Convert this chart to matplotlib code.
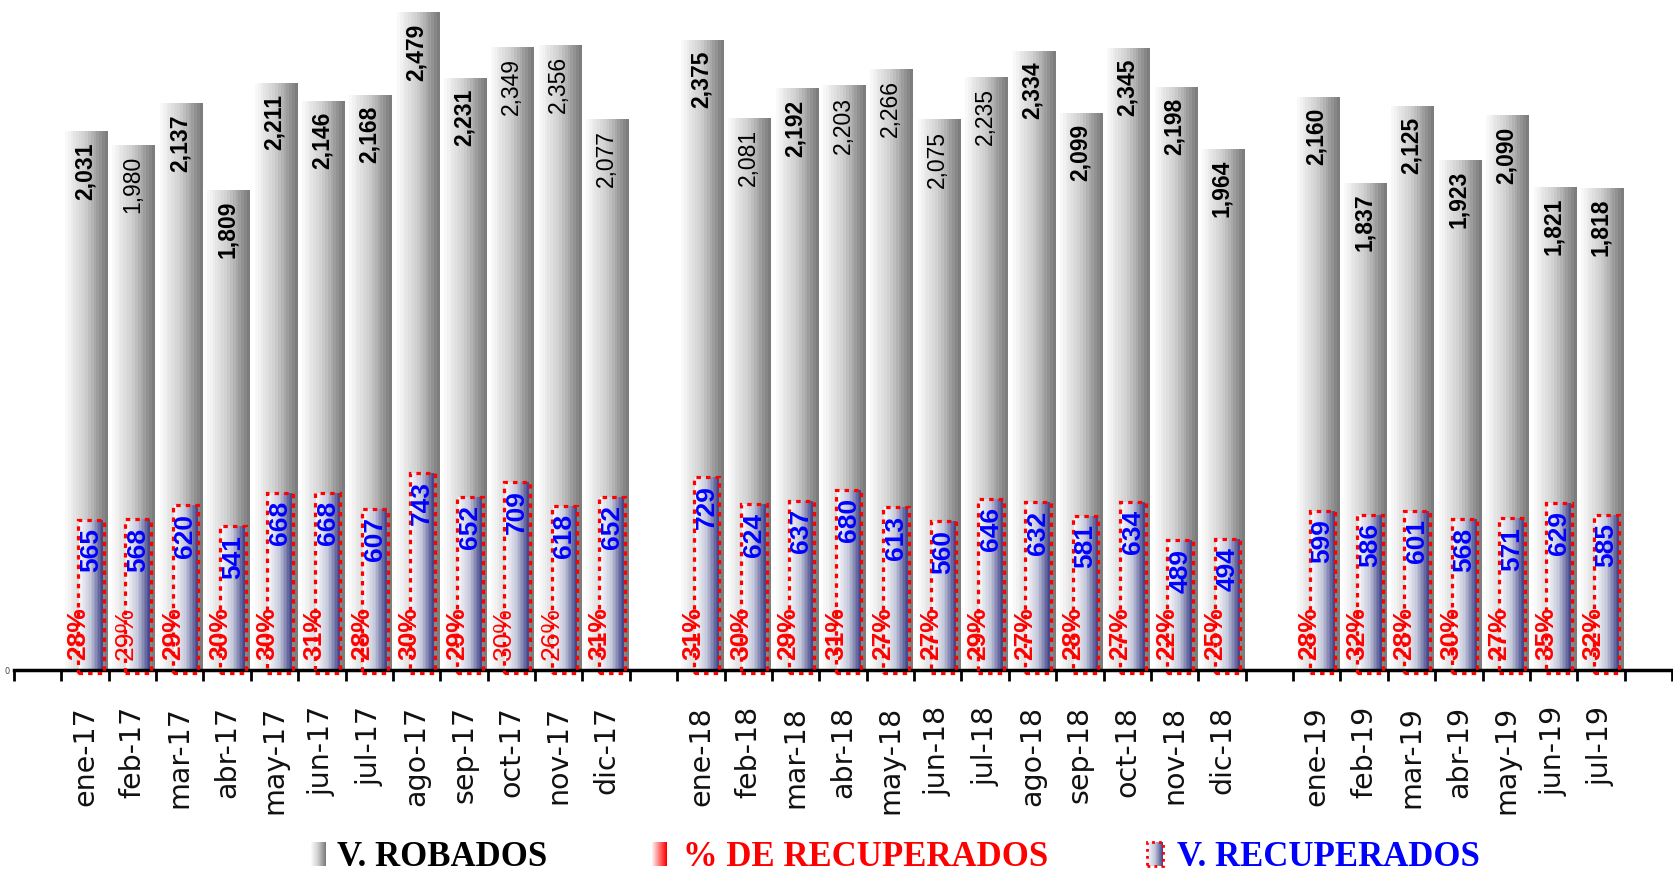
import matplotlib
matplotlib.use("Agg")
import matplotlib.pyplot as plt
import numpy as np
from matplotlib.colors import LinearSegmentedColormap
from matplotlib.patches import Rectangle

# datos
meses17 = ["ene-17", "feb-17", "mar-17", "abr-17", "may-17", "jun-17",
           "jul-17", "ago-17", "sep-17", "oct-17", "nov-17", "dic-17"]
meses18 = ["ene-18", "feb-18", "mar-18", "abr-18", "may-18", "jun-18",
           "jul-18", "ago-18", "sep-18", "oct-18", "nov-18", "dic-18"]
meses19 = ["ene-19", "feb-19", "mar-19", "abr-19", "may-19", "jun-19", "jul-19"]

robados17 = [2031, 1980, 2137, 1809, 2211, 2146, 2168, 2479, 2231, 2349, 2356, 2077]
robados18 = [2375, 2081, 2192, 2203, 2266, 2075, 2235, 2334, 2099, 2345, 2198, 1964]
robados19 = [2160, 1837, 2125, 1923, 2090, 1821, 1818]

recuperados17 = [565, 568, 620, 541, 668, 668, 607, 743, 652, 709, 618, 652]
recuperados18 = [729, 624, 637, 680, 613, 560, 646, 632, 581, 634, 489, 494]
recuperados19 = [599, 586, 601, 568, 571, 629, 585]

porcentaje17 = [28, 29, 29, 30, 30, 31, 28, 30, 29, 30, 26, 31]
porcentaje18 = [31, 30, 29, 31, 27, 27, 29, 27, 28, 27, 22, 25]
porcentaje19 = [28, 32, 28, 30, 27, 35, 32]

# etiquetas que en el original salen sin negrita
normales_robados = ["feb-17", "oct-17", "nov-17", "dic-17", "feb-18", "abr-18",
                    "may-18", "jun-18", "jul-18"]
normales_pct = ["feb-17", "oct-17", "nov-17"]

# categorías con un hueco entre años
etiquetas = [""] + meses17 + [""] + meses18 + [""] + meses19 + [""]
meses = meses17 + meses18 + meses19
pos = np.array([i for i, e in enumerate(etiquetas) if e])
robados = np.array(robados17 + robados18 + robados19)
recuperados = np.array(recuperados17 + recuperados18 + recuperados19)
porcentaje = porcentaje17 + porcentaje18 + porcentaje19

cm_gris = LinearSegmentedColormap.from_list("gris", ["#ffffff", "#cfcfcf", "#7d7d7d"], N=16)
cm_azul = LinearSegmentedColormap.from_list("azul", ["#f8f9fb", "#c4c7da", "#45488a"], N=16)
cm_rojo = LinearSegmentedColormap.from_list("rojo", ["#ffffff", "#ff8080", "#ff0000"], N=16)
grad = np.linspace(0, 1, 64).reshape(1, -1)

fig = plt.figure(figsize=(16.74, 8.71), dpi=100)
ax = fig.add_axes([14 / 1674, 201 / 871, 1658 / 1674, 670 / 871])


def barras_gradiente(x, alturas, ancho, cmap, z):
    barras = ax.bar(x, alturas, width=ancho, color="none", edgecolor="none", zorder=z)
    for b in barras:
        x0, y0 = b.get_x(), b.get_y()
        im = ax.imshow(grad, cmap=cmap, aspect="auto", interpolation="nearest",
                       extent=[x0, x0 + b.get_width(), y0, y0 + b.get_height()], zorder=z)
        im.set_clip_path(b)
    return barras


barras_gradiente(pos, robados, 0.97, cm_gris, 1)
azules = barras_gradiente(pos + 0.12, recuperados, 0.5, cm_azul, 2)

# contorno punteado rojo
for b in azules:
    ax.add_patch(Rectangle((b.get_x() - 0.02, -12), b.get_width() + 0.04, b.get_height() + 12,
                           fill=False, edgecolor="red", lw=2.3, ls=(0, (1.4, 1.6)),
                           zorder=3, clip_on=False))

for m, p, v in zip(meses, pos, robados):
    ax.annotate(f"{v:,}", (p, v), xytext=(0, -8), textcoords="offset points",
                rotation=90, ha="center", va="top", fontsize=16.5, family="Liberation Sans",
                fontweight="normal" if m in normales_robados else "bold", zorder=4)

for p, v in zip(pos, recuperados):
    ax.annotate(f"{v:,}", (p + 0.12, v), xytext=(0, -6), textcoords="offset points",
                rotation=90, ha="center", va="top", fontsize=19, family="Liberation Sans",
                fontweight="bold", color="blue", zorder=4)

for m, p, pc in zip(meses, pos, porcentaje):
    ax.text(p - 0.15, 36, f"{pc}%", rotation=90, ha="center", va="bottom",
            fontsize=19, family="Liberation Sans", color="red",
            fontweight="normal" if m in normales_pct else "bold", zorder=4)

ax.set_xlim(-0.5, len(etiquetas) - 0.5)
ax.set_ylim(0, 2525)

ax.set_xticks(pos)
ax.set_xticklabels(meses, rotation=90, fontsize=20.5, family="DejaVu Sans", color="#111111")
ax.set_xticks(np.arange(-0.5, len(etiquetas)), minor=True)
ax.tick_params(axis="x", which="major", length=0, pad=26)
ax.tick_params(axis="x", which="minor", length=8, width=2, color="black")
ax.set_yticks([0])
ax.set_yticklabels(["0"], fontsize=6, color="#444444")
ax.tick_params(axis="y", length=0, pad=3)
for lado in ["left", "top", "right"]:
    ax.spines[lado].set_visible(False)
ax.spines["bottom"].set_linewidth(2.5)
ax.set_facecolor("none")

# leyenda manual con muestras en degradado
leyenda = [
    (310, 337, cm_gris, "V. ROBADOS", "black", False),
    (651, 683, cm_rojo, "% DE RECUPERADOS", "red", False),
    (1147, 1177, cm_azul, "V. RECUPERADOS", "blue", True),
]
for xm, xt, cmap, texto, color, punteado in leyenda:
    sw = fig.add_axes([xm / 1674, 5 / 871, 16 / 1674, 24 / 871])
    sw.imshow(grad, cmap=cmap, aspect="auto", interpolation="nearest")
    sw.axis("off")
    if punteado:
        sw.add_patch(Rectangle((0, 0), 1, 1, transform=sw.transAxes, fill=False,
                               edgecolor="red", lw=2, ls=(0, (1, 1.5)), clip_on=False))
    fig.text(xt / 1674, 5 / 871, texto, family="Liberation Serif", fontweight="bold",
             fontsize=25, color=color, ha="left", va="baseline")

fig.savefig("out.png", dpi=100)
